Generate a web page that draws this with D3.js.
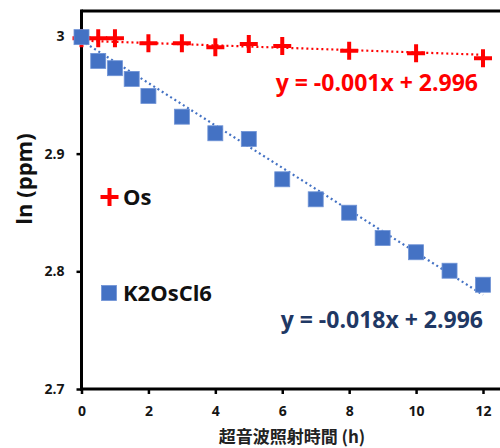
<!DOCTYPE html>
<html>
<head>
<meta charset="utf-8">
<script src="https://cdn.jsdelivr.net/npm/d3@7"></script>
<style>
  html, body { margin: 0; padding: 0; background: #fff; }
  svg { display: block; }
  text { font-family: "Open Sans", Lato, sans-serif; font-weight: bold; }
</style>
</head>
<body>
<svg id="chart" width="500" height="448"></svg>
<script>
// Irradiation time (h)
const osHours = [0, 0.5, 1, 2, 3, 4, 5, 6, 8, 10, 12];
const osLnPpm = [2.998, 2.998, 2.998, 2.9938, 2.9938, 2.9904, 2.9932, 2.9915, 2.9875, 2.9853, 2.981];

const kHours = [0, 0.5, 1, 1.5, 2, 3, 4, 5, 6, 7, 8, 9, 10, 11, 12];
const kLnPpm = [2.999, 2.9788, 2.9726, 2.9635, 2.949, 2.9314, 2.9173, 2.9125, 2.8782, 2.8612, 2.8498, 2.8283, 2.8162, 2.8005, 2.7886];

// Linear fits: [slope, intercept]
const osFit = [-0.001, 2.996];
const kFit = [-0.018, 2.996];

const xTicks = [0, 2, 4, 6, 8, 10, 12];
const yTicks = [2.7, 2.8, 2.9, 3];

const seriesNames = ["Os", "K2OsCl6"];
const xTitle = "超音波照射時間 (h)";
const yTitle = "ln (ppm)";

const W = 500, H = 448;
const svg = d3.select("#chart");

const x = d3.scaleLinear().domain([0, 12]).range([81.5, 483]);
const y = d3.scaleLinear().domain([2.7, 3.0212]).range([389, 11]);

const red = "#ff0000";
const blue = "#4472c4";
const navy = "#1f3864";

// Frame: top border line
svg.append("line")
  .attr("x1", x(0)).attr("x2", W + 5)
  .attr("y1", y(3.0212)).attr("y2", y(3.0212))
  .attr("stroke", "#000").attr("stroke-width", 3);

// Y axis
const yAxis = svg.append("g")
  .attr("transform", `translate(${x(0)},0)`)
  .call(d3.axisLeft(y).tickValues(yTicks).tickFormat(d3.format("~g")).tickSize(5).tickPadding(12));
yAxis.select(".domain").attr("stroke", "#000").attr("stroke-width", 3)
  .attr("d", `M0,${y(3.0212) - 1.5}V${y(2.7) + 1.5}`);
yAxis.selectAll(".tick line").attr("stroke", "#000").attr("stroke-width", 2.5);
yAxis.selectAll(".tick text").attr("fill", "#151515").style("font-size", "14px")
  .style("font-family", "'Open Sans', sans-serif").style("font-weight", "bold");

// X axis
const xAxis = svg.append("g")
  .attr("transform", `translate(0,${y(2.7)})`)
  .call(d3.axisBottom(x).tickValues(xTicks).tickFormat(d3.format("d")).tickSize(5).tickPadding(12));
xAxis.select(".domain").attr("stroke", "#000").attr("stroke-width", 3)
  .attr("d", `M${x(0) - 1.5},0H${W + 5}`);
xAxis.selectAll(".tick line").attr("stroke", "#000").attr("stroke-width", 2.5);
xAxis.selectAll(".tick text").attr("fill", "#151515").style("font-size", "14px")
  .style("font-family", "'Open Sans', sans-serif").style("font-weight", "bold");

// Axis titles
svg.append("text")
  .attr("x", 292).attr("y", 443)
  .attr("text-anchor", "middle")
  .style("font-family", "'Noto Sans CJK JP', sans-serif")
  .style("font-size", "17px").attr("fill", "#222")
  .text(xTitle);

svg.append("text")
  .attr("transform", `translate(32,179) rotate(-90)`)
  .attr("text-anchor", "middle")
  .style("font-size", "22px").attr("fill", "#111")
  .text(yTitle);

// Trend lines (dotted)
function fitLine(fit, color) {
  const pts = [0, 12].map(h => [x(h), y(fit[0] * h + fit[1])]);
  svg.append("path")
    .attr("d", d3.line()(pts))
    .attr("stroke", color).attr("stroke-width", 2.2)
    .attr("stroke-dasharray", "2,3").attr("fill", "none");
}
fitLine(osFit, red);
fitLine(kFit, blue);

// Plus marker path
function plusPath(cx, cy, r) {
  return `M${cx - r},${cy}H${cx + r}M${cx},${cy - r}V${cy + r}`;
}

// Os markers
svg.append("g").selectAll("path")
  .data(osHours.map((h, i) => [h, osLnPpm[i]]))
  .join("path")
  .attr("d", d => plusPath(x(d[0]), y(d[1]), 9))
  .attr("stroke", red).attr("stroke-width", 4).attr("fill", "none");

// K2OsCl6 markers
const sq = 15;
svg.append("g").selectAll("rect")
  .data(kHours.map((h, i) => [h, kLnPpm[i]]))
  .join("rect")
  .attr("x", d => x(d[0]) - sq / 2).attr("y", d => y(d[1]) - sq / 2)
  .attr("width", sq).attr("height", sq)
  .attr("fill", blue).attr("stroke", "#6f93d6").attr("stroke-width", 0.8);

// Legend
svg.append("path").attr("d", plusPath(109.5, 197, 9))
  .attr("stroke", red).attr("stroke-width", 4).attr("fill", "none");
svg.append("text").attr("x", 123).attr("y", 205)
  .style("font-size", "22px").attr("fill", "#111").text(seriesNames[0]);

svg.append("rect").attr("x", 101.5).attr("y", 285.5).attr("width", 15).attr("height", 15)
  .attr("fill", blue).attr("stroke", "#6f93d6").attr("stroke-width", 0.8);
svg.append("text").attr("x", 123).attr("y", 301)
  .style("font-size", "22px").attr("fill", "#111").text(seriesNames[1]);

// Fit equations
const fmtEq = f => `y = ${d3.format(".3f")(f[0])}x + ${d3.format(".3f")(f[1])}`.replace("−", "-");
svg.append("text").attr("x", 478).attr("y", 91)
  .attr("text-anchor", "end")
  .style("font-size", "23px").attr("fill", red).text(fmtEq(osFit));
svg.append("text").attr("x", 483).attr("y", 328)
  .attr("text-anchor", "end")
  .style("font-size", "23px").attr("fill", navy).text(fmtEq(kFit));
</script>
</body>
</html>
